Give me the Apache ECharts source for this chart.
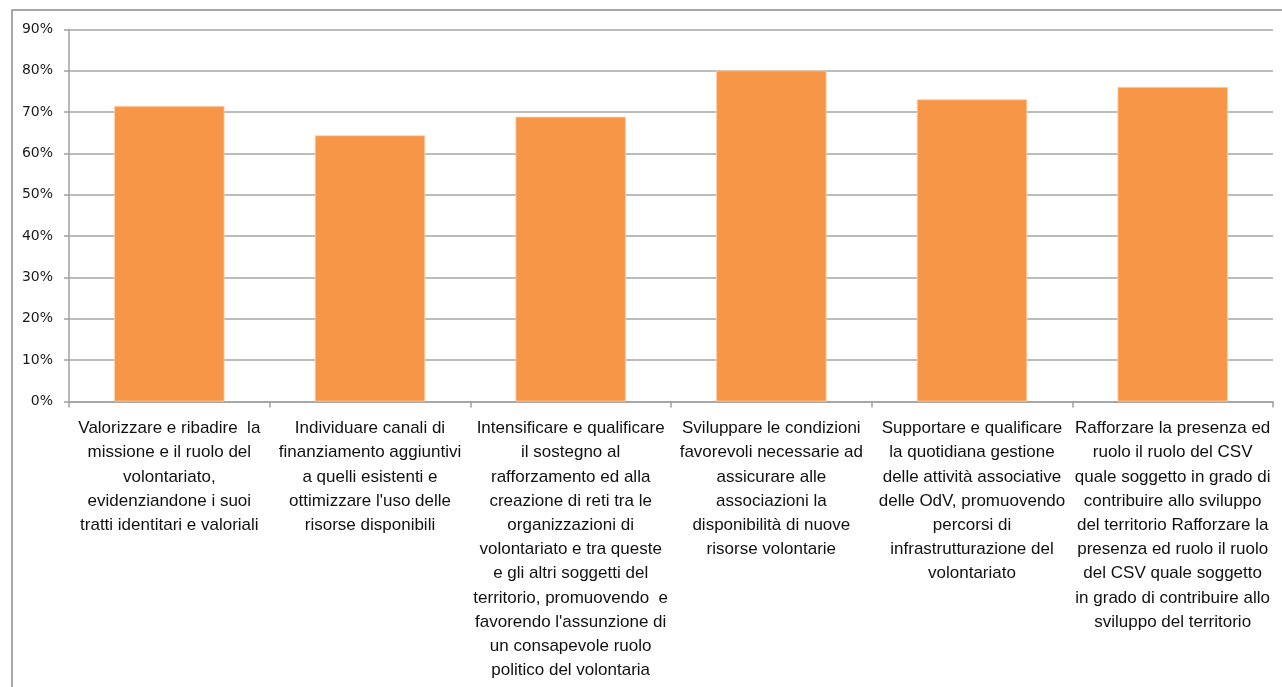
<!DOCTYPE html>
<html>
<head>
<meta charset="utf-8">
<script src="https://cdn.jsdelivr.net/npm/echarts@6/dist/echarts.min.js"></script>
<style>
html,body{margin:0;padding:0;background:#fff;}
#chart{width:1282px;height:687px;}
</style>
</head>
<body>
<div id="chart"></div>
<script>
const categories = [
  "Valorizzare e ribadire  la\nmissione e il ruolo del\nvolontariato,\nevidenziandone i suoi\ntratti identitari e valoriali",
  "Individuare canali di\nfinanziamento aggiuntivi\na quelli esistenti e\nottimizzare l'uso delle\nrisorse disponibili",
  "Intensificare e qualificare\nil sostegno al\nrafforzamento ed alla\ncreazione di reti tra le\norganizzazioni di\nvolontariato e tra queste\ne gli altri soggetti del\nterritorio, promuovendo  e\nfavorendo l'assunzione di\nun consapevole ruolo\npolitico del volontaria",
  "Sviluppare le condizioni\nfavorevoli necessarie ad\nassicurare alle\nassociazioni la\ndisponibilità di nuove\nrisorse volontarie",
  "Supportare e qualificare\nla quotidiana gestione\ndelle attività associative\ndelle OdV, promuovendo\npercorsi di\ninfrastrutturazione del\nvolontariato",
  "Rafforzare la presenza ed\nruolo il ruolo del CSV\nquale soggetto in grado di\ncontribuire allo sviluppo\ndel territorio Rafforzare la\npresenza ed ruolo il ruolo\ndel CSV quale soggetto\nin grado di contribuire allo\nsviluppo del territorio"
];
const values = [71.5, 64.4, 68.9, 80.1, 73.1, 76.1];
const yTicks = { min: 0, max: 90, interval: 10 };

const chart = echarts.init(document.getElementById('chart'));
chart.setOption({
  animation: false,
  graphic: [{
    type: 'rect',
    shape: { x: 12, y: 10, width: 1300, height: 700 },
    style: { fill: 'none', stroke: '#8c8c8c', lineWidth: 1.5 },
    silent: true
  }],
  grid: { left: 69, right: 9, top: 29.5, bottom: 285.5, containLabel: false },
  xAxis: {
    type: 'category',
    data: categories,
    axisLine: { show: true, lineStyle: { color: '#a0a0a0', width: 1.5 } },
    axisTick: { show: true, alignWithLabel: false, length: 6, lineStyle: { color: '#a0a0a0', width: 1.5 } },
    axisLabel: {
      interval: 0,
      margin: 15,
      color: '#111',
      fontFamily: '"Liberation Sans Narrow", "Arial Narrow", "Liberation Sans", sans-serif',
      fontSize: 17,
      lineHeight: 24.2,
      align: 'center'
    }
  },
  yAxis: {
    type: 'value',
    min: yTicks.min,
    max: yTicks.max,
    interval: yTicks.interval,
    axisLine: { show: true, lineStyle: { color: '#a0a0a0', width: 1.5 } },
    axisTick: { show: true, length: 5, lineStyle: { color: '#a0a0a0', width: 1.5 } },
    splitLine: { show: true, lineStyle: { color: '#a6a6a6', width: 1.5 } },
    axisLabel: {
      formatter: '{value}%',
      color: '#1a1a1a',
      fontFamily: '"DejaVu Sans", sans-serif',
      fontSize: 14,
      margin: 16
    }
  },
  series: [{
    type: 'bar',
    data: values,
    barWidth: '55%',
    itemStyle: { color: '#F79646', borderColor: '#fbd0ad', borderWidth: 0.8 }
  }]
});
</script>
</body>
</html>
